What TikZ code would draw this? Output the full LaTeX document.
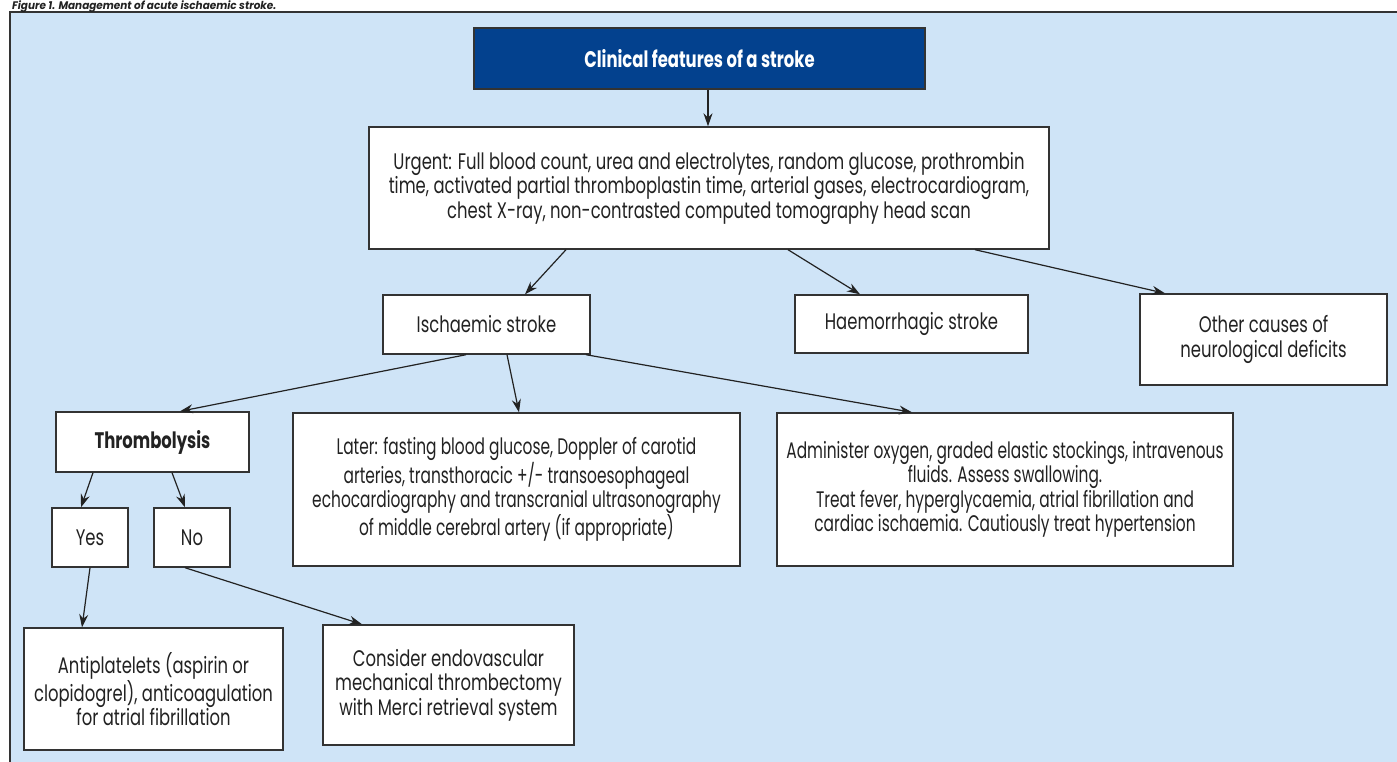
\documentclass[tikz,border=0pt]{standalone}
\usepackage{fontspec}
\setmainfont[FakeStretch=0.73]{Poppins}
\newfontfamily\narrowfont[FakeStretch=0.685]{Poppins}
\newfontfamily\capfont[FakeStretch=0.95]{Poppins}
\usetikzlibrary{arrows.meta,calc}
\definecolor{panel}{HTML}{CFE4F7}
\definecolor{titleblue}{HTML}{03418E}
\definecolor{ink}{HTML}{222222}
\definecolor{edge}{HTML}{333333}
\tikzset{
  box/.style={draw=edge, line width=1.4pt, fill=white, inner sep=0pt, align=center,
    text=ink, font=\fontsize{22.5}{24.5}\selectfont},
  titlebox/.style={box, fill=titleblue, text=white, font=\fontsize{22.5}{24}\selectfont\bfseries},
  conn/.style={draw=ink, line width=1.2pt, -{Stealth[length=13pt,width=9pt]}}
}
\newcommand{\bx}[7][box]{% style, name, x1, y1, x2, y2, text
  \node[#1, minimum width={#5-#3}, minimum height={#6-#4}] (#2) at ({(#3+#5)/2},{(#4+#6)/2}) {#7};}
\begin{document}
\begin{tikzpicture}[x=1pt,y=-1pt]
\useasboundingbox (0,0) rectangle (1397,761);
\clip (0,0) rectangle (1397,761);
\fill[white] (0,0) rectangle (1397,761);
\draw[edge, line width=1.4pt, fill=panel] (10,12) rectangle (1420,790);
\node[anchor=base west, inner sep=0pt, text=ink, font=\capfont\fontsize{11}{12}\selectfont\bfseries\itshape] (cap) at (12,9) {Figure 1. Management of acute ischaemic stroke.};

\bx[titlebox]{title}{474}{28}{925}{89}{Clinical features of a stroke}
\bx{urgent}{369}{127}{1049}{249}{Urgent: Full blood count, urea and electrolytes, random glucose, prothrombin\\ time, activated partial thromboplastin time, arterial gases, electrocardiogram,\\ chest X-ray, non-contrasted computed tomography head scan}
\bx{isch}{383}{295}{590}{354}{Ischaemic stroke}
\bx{haem}{795}{295}{1028}{353}{Haemorrhagic stroke}
\bx{other}{1140}{294}{1387}{385}{Other causes of\\ neurological deficits}
\bx[box,font=\fontsize{22.5}{24.5}\selectfont\bfseries]{thromb}{56}{412}{249}{472}{Thrombolysis}
\bx{yes}{52}{508}{128}{567}{Yes}
\bx{no}{154}{508}{230}{567}{No}
\bx[box,font=\narrowfont\fontsize{22.5}{24.5}\selectfont]{later}{293}{413}{740}{566}{Later: fasting blood glucose, Doppler of carotid\\ arteries, transthoracic +/- transoesophageal\\ echocardiography and transcranial ultrasonography\\ of middle cerebral artery (if appropriate)}
\bx[box,font=\narrowfont\fontsize{22.5}{24.5}\selectfont]{admin}{777}{413}{1233}{566}{Administer oxygen, graded elastic stockings, intravenous\\ fluids. Assess swallowing.\\ Treat fever, hyperglycaemia, atrial fibrillation and\\ cardiac ischaemia. Cautiously treat hypertension}
\bx{anti}{24}{628}{283}{750}{Antiplatelets (aspirin or\\ clopidogrel), anticoagulation\\ for atrial fibrillation}
\bx{consider}{323}{625}{574}{745}{Consider endovascular\\ mechanical thrombectomy\\ with Merci retrieval system}

\draw[conn] (title.south -| 708,0) -- (urgent.north -| 708,0);
\draw[conn] (urgent.south -| 566,0) -- (isch.north -| 525,0);
\draw[conn] (urgent.south -| 788,0) -- (haem.north -| 860,0);
\draw[conn] (urgent.south -| 975,0) -- (other.north -| 1165,0);
\draw[conn] (isch.south -| 466,0) -- (thromb.north -| 180,0);
\draw[conn] (isch.south -| 507,0) -- (later.north -| 519,0);
\draw[conn] (isch.south -| 586,0) -- (admin.north -| 912,0);
\draw[conn] (thromb.south -| 93,0) -- (yes.north -| 81,0);
\draw[conn] (thromb.south -| 172,0) -- (no.north -| 185,0);
\draw[conn] (yes.south -| 90,0) -- (anti.north -| 82,0);
\draw[conn] (no.south -| 185,0) -- (consider.north -| 362,0);
\end{tikzpicture}
\end{document}
